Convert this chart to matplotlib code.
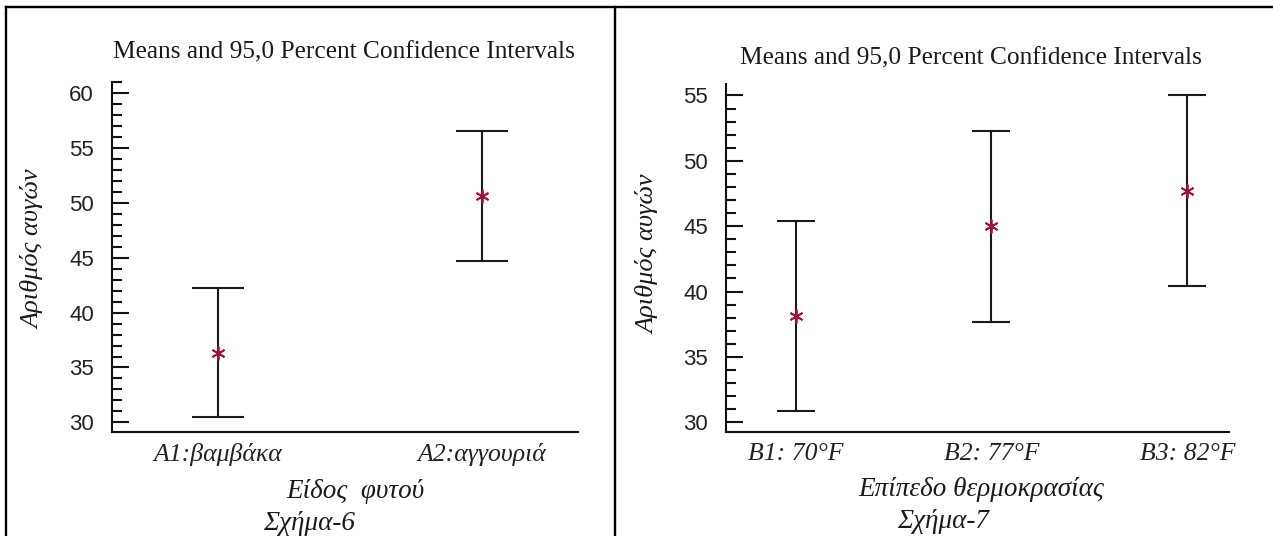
import matplotlib
matplotlib.use("Agg")
import matplotlib.pyplot as plt
from matplotlib.lines import Line2D
from matplotlib.ticker import MultipleLocator

# ---- data -------------------------------------------------------------
plant_labels = ["A1:βαμβάκα", "A2:αγγουριά"]
plant_means = [36.35, 50.65]
plant_lower = [30.45, 44.70]
plant_upper = [42.25, 56.60]

temp_labels = ["B1: 70°F", "B2: 77°F", "B3: 82°F"]
temp_means = [38.13, 45.00, 47.70]
temp_lower = [30.84, 37.69, 40.41]
temp_upper = [45.43, 52.31, 55.00]

title_text = "Means and 95,0 Percent Confidence Intervals"
y_label = "Αριθμός αυγών"
plant_xlabel = "Είδος  φυτού"
temp_xlabel = "Επίπεδο θερμοκρασίας"
caption_left = "Σχήμα-6"
caption_right = "Σχήμα-7"

# ---- figure -----------------------------------------------------------
W, H = 1273, 536
fig = plt.figure(figsize=(W / 100, H / 100), dpi=100)
fig.patch.set_facecolor("white")

SERIF = ["Liberation Serif", "DejaVu Serif"]
SANS = ["Liberation Sans", "DejaVu Sans"]
MARK_COLOR = "#a8103c"
LINE_COLOR = "#1a1a1a"


def px(x, y):
    """pixel position (from top-left) -> figure fraction"""
    return x / W, 1 - y / H


def add_axes(x0, y0, x1, y1):
    l, t = px(x0, y0)
    r, b = px(x1, y1)
    return fig.add_axes([l, b, r - l, t - b])


def draw_panel(ax, labels, means, lower, upper, ylim, xlim, major, capsize):
    xs = list(range(1, len(labels) + 1))
    err_lo = [m - lo for m, lo in zip(means, lower)]
    err_hi = [hi - m for m, hi in zip(means, upper)]
    ax.errorbar(xs, means, yerr=[err_lo, err_hi], fmt="none",
                ecolor=LINE_COLOR, elinewidth=1.5, capsize=capsize,
                capthick=1.5, zorder=2)
    ax.plot(xs, means, linestyle="none", marker=(6, 2, 0), markersize=10,
            markeredgewidth=1.3, color=MARK_COLOR, zorder=3)
    ax.set_xlim(*xlim)
    ax.set_ylim(*ylim)
    for side in ("top", "right"):
        ax.spines[side].set_visible(False)
    for side in ("left", "bottom"):
        ax.spines[side].set_linewidth(1.5)
        ax.spines[side].set_color("#111111")
    ax.yaxis.set_major_locator(MultipleLocator(major))
    ax.yaxis.set_minor_locator(MultipleLocator(1))
    ax.tick_params(axis="y", which="major", direction="in", length=12.5,
                   width=1.5, color="#111111", pad=13, labelsize=16)
    ax.tick_params(axis="y", which="minor", direction="in", length=7.5,
                   width=1.5, color="#111111")
    ax.set_xticks(xs)
    ax.set_xticklabels(labels, fontstyle="italic", family=SERIF, fontsize=18.5)
    ax.tick_params(axis="x", which="both", length=0, pad=8)
    for lab in ax.get_yticklabels():
        lab.set_family(SANS)
        lab.set_color("#222222")
    for lab in ax.get_xticklabels():
        lab.set_color("#222222")


# left panel: plant type
ax1 = add_axes(112, 82, 577.5, 432.3)
draw_panel(ax1, plant_labels, plant_means, plant_lower, plant_upper,
           ylim=(29.09, 61.03), xlim=(0.5995, 2.363), major=5, capsize=19)

# right panel: temperature level
ax2 = add_axes(726, 83.8, 1229, 432.3)
draw_panel(ax2, temp_labels, temp_means, temp_lower, temp_upper,
           ylim=(29.23, 55.89), xlim=(0.645, 3.213), major=5, capsize=14)

# titles, axis labels, captions
txt = dict(ha="center", va="center", color="#1a1a1a")
fig.text(*px(343.5, 52), title_text, family=SERIF, fontsize=18.3, **txt)
fig.text(*px(970.5, 58), title_text, family=SERIF, fontsize=18.3, **txt)

fig.text(*px(33, 249), y_label, family=SERIF, fontstyle="italic",
         fontsize=19, rotation=90, **txt)
fig.text(*px(648, 254), y_label, family=SERIF, fontstyle="italic",
         fontsize=19, rotation=90, **txt)

fig.text(*px(355, 492), plant_xlabel, family=SERIF, fontstyle="italic",
         fontsize=19.5, **txt)
fig.text(*px(981, 489), temp_xlabel, family=SERIF, fontstyle="italic",
         fontsize=19.5, **txt)

fig.text(*px(309, 524), caption_left, family=SERIF, fontstyle="italic",
         fontsize=19.5, **txt)
fig.text(*px(943, 522), caption_right, family=SERIF, fontstyle="italic",
         fontsize=19.5, **txt)

# surrounding table frame
frame = dict(color="black", linewidth=1.7, transform=fig.transFigure,
             solid_capstyle="projecting")
for (xa, ya), (xb, yb) in [((6, 7), (1273, 7)),
                           ((6, 7), (6, 536)),
                           ((615, 7), (615, 536))]:
    p0, p1 = px(xa, ya), px(xb, yb)
    fig.add_artist(Line2D([p0[0], p1[0]], [p0[1], p1[1]], **frame))

fig.savefig("out.png", dpi=100, facecolor="white")
